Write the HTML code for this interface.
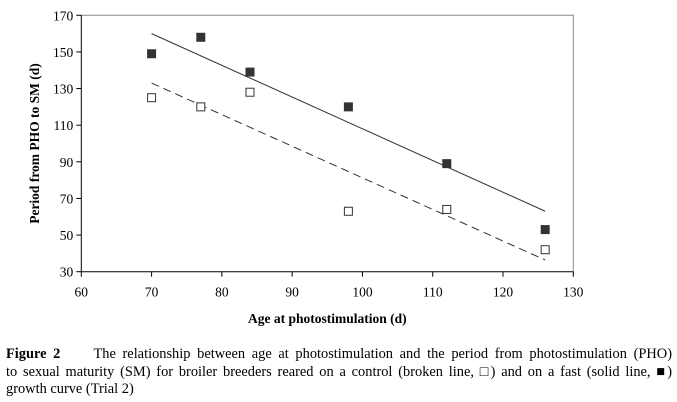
<!DOCTYPE html>
<html><head><meta charset="utf-8"><style>
body{margin:0;background:#fff;width:677px;height:402px;overflow:hidden;font-family:"Liberation Serif",serif}
svg text{font-family:"Liberation Serif",serif}
#cap{position:absolute;left:6px;top:346px;width:666px;font-size:14.4px;line-height:17.5px;color:#000}
#cap div{white-space:nowrap}
#cap .j{text-align:justify;text-align-last:justify;white-space:normal;height:17.5px;overflow:hidden}
</style></head><body>
<svg width="677" height="340" style="position:absolute;left:0;top:0">
<g id="g"></g>
</svg>
<div id="cap">
<div class="j"><b>Figure 2</b>&nbsp;&nbsp;&nbsp;&nbsp; The relationship between age at photostimulation and the period from photostimulation (PHO)</div>
<div class="j">to sexual maturity (SM) for broiler breeders reared on a control (broken line, □) and on a fast (solid line, ■)</div>
<div>growth curve (Trial 2)</div>
</div>
<script>
const xTicks=[60,70,80,90,100,110,120,130];
const yTicks=[30,50,70,90,110,130,150,170];
const ages=[70,77,84,98,112,126];
const fastValues=[149,158,139,120,89,53];
const controlValues=[125,120,128,63,64,42];
const fastLine=[[70,160],[126,63]];
const controlLine=[[70,133],[126,36.4]];
const X=v=>81.3+(v-60)*(573.3-81.3)/70;
const Y=v=>271.7-(v-30)*(271.7-15.3)/140;
const NS="http://www.w3.org/2000/svg";
const g=document.getElementById('g');
function mk(t,a){const e=document.createElementNS(NS,t);for(const k in a)e.setAttribute(k,a[k]);g.appendChild(e);return e;}
let e;
e=mk('path',{d:`M${X(60)} ${Y(170)}H${X(130)}V${Y(30)}`,stroke:'#888',fill:'none','stroke-width':1});


e=mk('path',{d:`M${X(60)} ${Y(170)}V${Y(30)}H${X(130)}`,stroke:'#000',fill:'none','stroke-width':1});


yTicks.forEach(v=>{
 e=mk('line',{x1:X(60)-5,x2:X(60),y1:Y(v),y2:Y(v),stroke:'#000'});
 
 
 e=mk('text',{x:X(60)-8,y:Y(v)+5,'text-anchor':'end','font-size':13.5});e.textContent=v;
 
 
});
xTicks.forEach(v=>{
 e=mk('line',{x1:X(v),x2:X(v),y1:Y(30),y2:Y(30)+5,stroke:'#000'});
 
 
 e=mk('text',{x:X(v),y:Y(30)+25,'text-anchor':'middle','font-size':13.5});e.textContent=v;
 
 
});
e=mk('line',{x1:X(fastLine[0][0]),y1:Y(fastLine[0][1]),x2:X(fastLine[1][0]),y2:Y(fastLine[1][1]),stroke:'#333','stroke-width':1});


e=mk('line',{x1:X(controlLine[0][0]),y1:Y(controlLine[0][1]),x2:X(controlLine[1][0]),y2:Y(controlLine[1][1]),stroke:'#333','stroke-width':1,'stroke-dasharray':'8,5'});


ages.forEach((a,i)=>{
 e=mk('rect',{x:X(a)-4.5,y:Y(fastValues[i])-4.5,width:9,height:9,fill:'#333'});
 
 
 e=mk('rect',{x:X(a)-4,y:Y(controlValues[i])-4,width:8,height:8,fill:'#fff',stroke:'#333','stroke-width':1});
 
 
});
e=mk('text',{x:(X(60)+X(130))/2,y:323,'text-anchor':'middle','font-size':13.5,'font-weight':'bold'});e.textContent='Age at photostimulation (d)';


e=mk('text',{x:0,y:0,'text-anchor':'middle','font-size':13.5,'font-weight':'bold',transform:`translate(39,${(Y(30)+Y(170))/2}) rotate(-90)`});e.textContent='Period from PHO to SM (d)';


</script>
</body></html>
